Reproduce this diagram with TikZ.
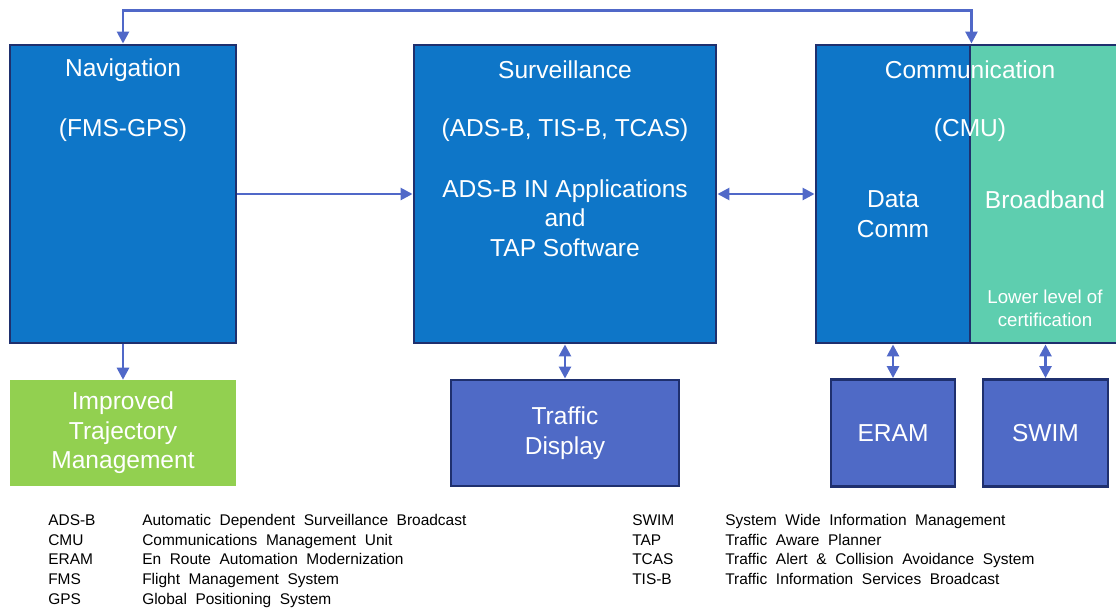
\documentclass[tikz,border=0pt]{standalone}
\usepackage{fontspec}
\setmainfont{Liberation Sans}
\newfontfamily\legfont[WordSpace=2.0]{Liberation Sans}
\usetikzlibrary{arrows.meta,positioning}
\definecolor{boxblue}{RGB}{14,118,200}
\definecolor{boxedge}{RGB}{31,48,110}
\definecolor{linkblue}{RGB}{80,104,200}
\definecolor{trajgreen}{RGB}{146,208,80}
\definecolor{bandgreen}{RGB}{94,206,175}
\definecolor{dispblue}{RGB}{79,106,198}
\newlength{\pxu}\setlength{\pxu}{0.75pt}
\tikzset{
  block/.style={draw=boxedge,line width=2.2pt,fill=boxblue,inner sep=0pt},
  boxtext/.style={text=white,font=\fontsize{18.4}{22.1}\selectfont,align=center,inner sep=0pt},
  link/.style={linkblue,line width=2pt,>={Triangle[length=9pt,width=9pt]}},
  legtext/.style={font=\legfont\fontsize{11.6}{14}\selectfont,anchor=base west,inner sep=0pt}
}

\begin{document}
\begin{tikzpicture}[x=0.75pt,y=-0.75pt]

\useasboundingbox (0,0) rectangle (1116,611);
\clip (0,0) rectangle (1116,611);

% Main blocks
\node[block,minimum width=226\pxu,minimum height=298\pxu] (nav) at (123,194) {};
\node[block,minimum width=302\pxu,minimum height=298\pxu] (surv) at (565,194) {};
\node[block,minimum width=154\pxu,minimum height=298\pxu] (datacomm) at (893,194) {};
\node[block,fill=bandgreen,minimum width=154\pxu,minimum height=298\pxu] (broadband) at (1047,194) {};

% Block texts
\node[boxtext] (navtitle) at (123,70) {Navigation};
\node[boxtext] (navsub) at (123,130) {(FMS-GPS)};

\node[boxtext] (survtitle) at (565,70) {Surveillance};
\node[boxtext] (survsub) at (565,130) {(ADS-B, TIS-B, TCAS)};
\node[boxtext] (survapps) at (565,218) {ADS-B IN Applications\\and\\TAP Software};

\node[boxtext] (commtitle) at (970,70) {Communication};
\node[boxtext] (commsub) at (970,130) {(CMU)};
\node[boxtext] (dctext) at (893,214) {Data\\Comm};
\node[boxtext] (bbtext) at (1045,200) {Broadband};
\node[boxtext,font=\fontsize{14}{17.3}\selectfont] (bbnote) at (1045,308) {Lower level of\\certification};

% Lower blocks
\node[boxtext,fill=trajgreen,minimum width=226\pxu,minimum height=106\pxu] (traj) at (123,433) {Improved\\Trajectory\\Management};
\node[block,boxtext,fill=dispblue,minimum width=228\pxu,minimum height=106\pxu] (display) at (565,433) {Traffic\\Display};
\node[block,boxtext,fill=dispblue,minimum width=124\pxu,minimum height=107\pxu] (eram) at (893,433) {ERAM};
\node[block,boxtext,fill=dispblue,minimum width=125\pxu,minimum height=107\pxu] (swim) at (1045.5,433) {SWIM};

% Connectors
\draw[link,<->] (nav.north) -- ++(0,-33) -| (datacomm.north east);
\draw[link,->] (nav.east) -- (surv.west);
\draw[link,<->] (surv.east) -- (datacomm.west);
\draw[link,->] (nav.south) -- (traj.north);
\draw[link,<->] (surv.south) -- (display.north);
\draw[link,<->] (datacomm.south) -- (eram.north);
\draw[link,<->] (swim.north |- broadband.south) -- (swim.north);

% Abbreviations
\foreach \ab/\txt [count=\i] in {ADS-B/Automatic Dependent Surveillance Broadcast,
    CMU/Communications Management Unit,
    ERAM/En Route Automation Modernization,
    FMS/Flight Management System,
    GPS/Global Positioning System} {
    \node[legtext] (abL\i) at (48,{525.5+(\i-1)*19.7}) {\ab};
    \node[legtext] (txtL\i) at (142,{525.5+(\i-1)*19.7}) {\txt};
}
\foreach \ab/\txt [count=\i] in {SWIM/System Wide Information Management,
    TAP/Traffic Aware Planner,
    TCAS/Traffic Alert \& Collision Avoidance System,
    TIS-B/Traffic Information Services Broadcast} {
    \node[legtext] (abR\i) at (632,{525.5+(\i-1)*19.7}) {\ab};
    \node[legtext] (txtR\i) at (725,{525.5+(\i-1)*19.7}) {\txt};
}

\end{tikzpicture}
\end{document}
